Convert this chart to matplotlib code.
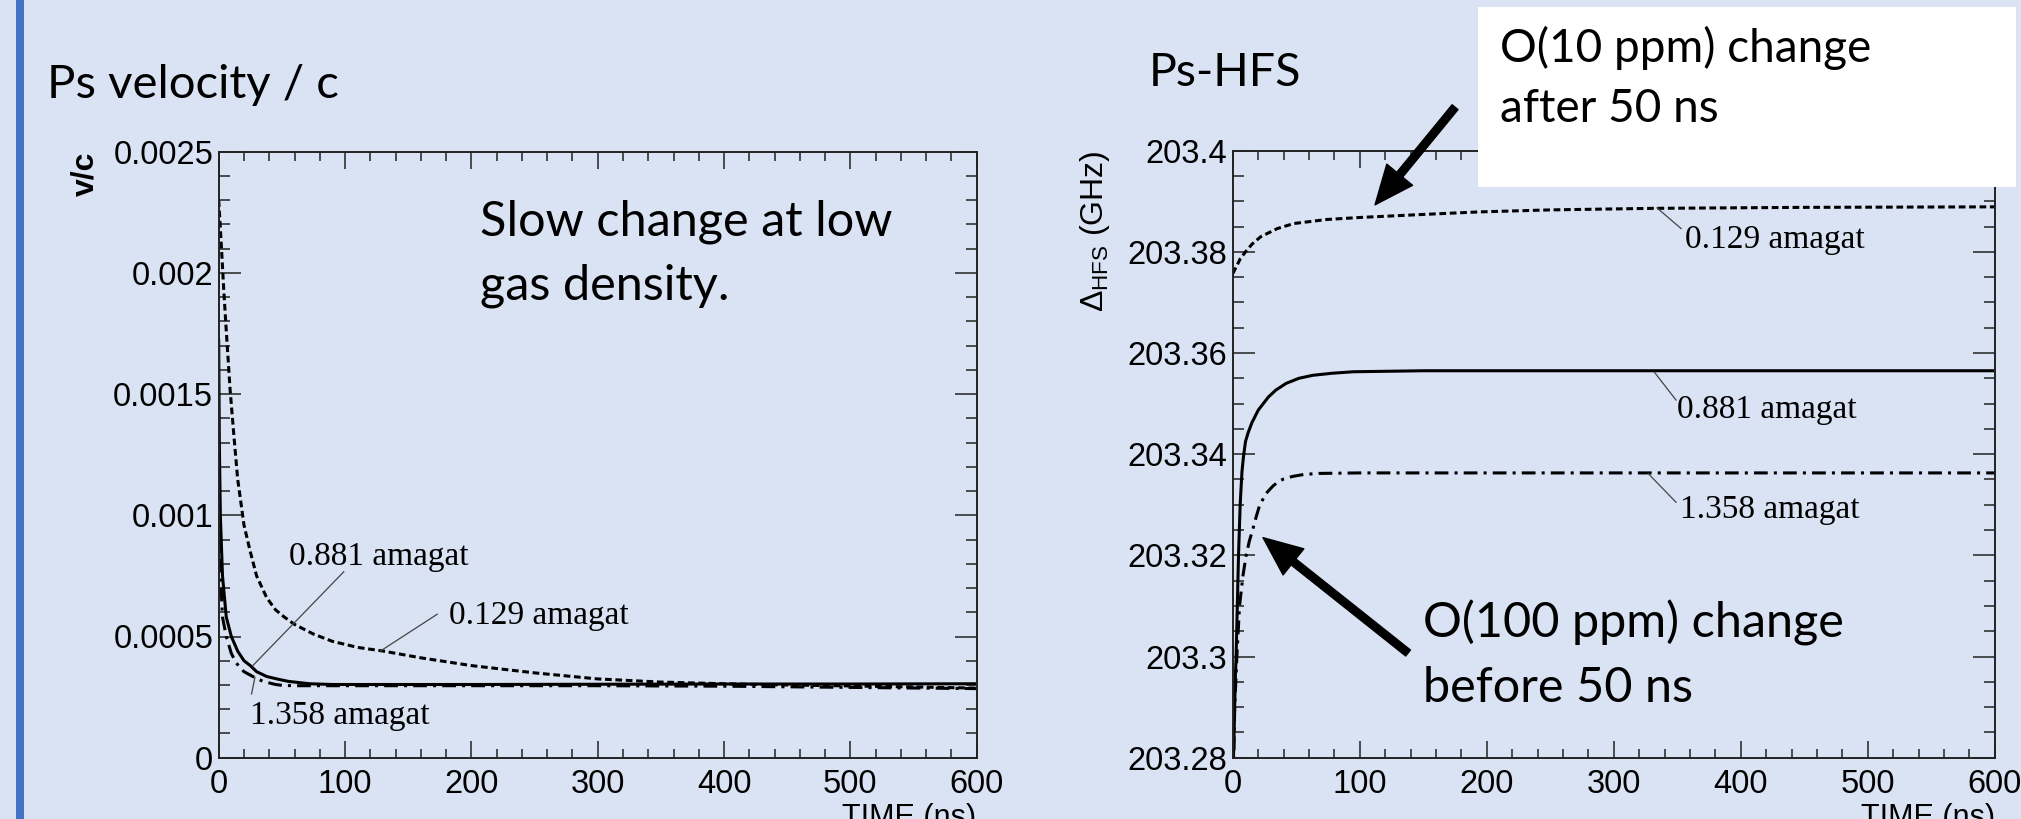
import numpy as np
import matplotlib.pyplot as plt
from matplotlib.patches import Rectangle
from matplotlib.ticker import FixedLocator, FixedFormatter, MultipleLocator

# ---- data ----
# left panel: Ps velocity / c versus time (ns), values in units of 1e-4
t_v_0129 = [0, 2, 4, 6, 9, 12, 15, 20, 25, 30, 38, 45, 52, 60, 75, 90, 110, 130,
            160, 200, 250, 300, 350, 400, 450, 500, 550, 600]
v_0129 = [23.0, 21.2, 19.3, 17.6, 15.2, 13.3, 11.5, 9.6, 8.5, 7.5, 6.6, 6.1, 5.8,
          5.5, 5.1, 4.8, 4.55, 4.4, 4.12, 3.8, 3.5, 3.25, 3.12, 3.05, 3.0, 2.96,
          2.92, 2.87]
t_v_0881 = [0, 0.5, 1.3, 3, 6, 10, 15, 20, 25, 30, 38, 46, 55, 72, 90, 120, 200,
            300, 400, 500, 600]
v_0881 = [17.2, 13.0, 10.0, 7.5, 5.8, 5.0, 4.4, 4.0, 3.8, 3.55, 3.35, 3.25, 3.15,
          3.05, 3.02, 3.02, 3.02, 3.03, 3.04, 3.04, 3.05]
t_v_1358 = [0, 0.5, 1.5, 3, 6, 10, 14, 20, 27, 35, 45, 51, 60, 80, 100, 200, 300,
            400, 500, 600]
v_1358 = [13.0, 10.0, 7.5, 5.8, 5.0, 4.3, 3.9, 3.55, 3.35, 3.15, 3.02, 2.98, 2.97,
          2.97, 2.97, 2.97, 2.97, 2.95, 2.9, 2.85]

# right panel: Ps-HFS (GHz) versus time (ns)
t_h_0129 = [0, 3, 6, 10, 15, 22, 35, 48, 74, 100, 150, 194, 250, 330, 450, 600]
h_0129 = [203.3757, 203.3772, 203.3787, 203.3800, 203.3815, 203.3830, 203.3846,
          203.3856, 203.3864, 203.3868, 203.3874, 203.3879, 203.3883, 203.3886,
          203.3888, 203.3889]
t_h_0881 = [0, 1, 2, 2.6, 4.5, 5.8, 7.2, 8.4, 10, 12, 15, 20, 24, 28, 34, 42, 52,
            63, 78, 95, 150, 600]
h_0881 = [203.275, 203.285, 203.296, 203.300, 203.320, 203.330, 203.3365, 203.3395,
          203.3425, 203.3442, 203.3462, 203.3487, 203.3500, 203.3513, 203.3527,
          203.3540, 203.3550, 203.3556, 203.3560, 203.3563, 203.3565, 203.3565]
t_h_1358 = [0, 1.5, 3.2, 5.3, 8, 10.5, 13, 15.8, 18.5, 21, 26, 31.6, 36, 40, 47,
            56, 68, 100, 600]
h_1358 = [203.27, 203.29, 203.300, 203.310, 203.316, 203.320, 203.3228, 203.3252,
          203.3277, 203.3298, 203.3322, 203.3337, 203.3346, 203.3351, 203.3356,
          203.3360, 203.3362, 203.3363, 203.3363]

v_ticks = [0, 0.0005, 0.001, 0.0015, 0.002, 0.0025]
v_ticklabels = ['0', '0.0005', '0.001', '0.0015', '0.002', '0.0025']
h_ticks = [203.28, 203.30, 203.32, 203.34, 203.36, 203.38, 203.40]
h_ticklabels = ['203.28', '203.3', '203.32', '203.34', '203.36', '203.38', '203.4']
t_ticks = [0, 100, 200, 300, 400, 500, 600]
t_ticklabels = ['0', '100', '200', '300', '400', '500', '600']

BG = '#DAE3F3'
INK = '#222222'
W, H = 2021, 819

plt.rcParams['mathtext.fontset'] = 'custom'
plt.rcParams['mathtext.rm'] = 'Liberation Sans'
plt.rcParams['mathtext.it'] = 'Liberation Sans'

fig = plt.figure(figsize=(W / 100, H / 100), dpi=100, facecolor=BG)


def fx(px):
    return px / W


def fy(py):
    return 1 - py / H


def root_style(ax, ticks, ticklabels, yminor):
    ax.set_facecolor('none')
    for s in ax.spines.values():
        s.set_color(INK)
        s.set_linewidth(1.4)
    ax.set_xlim(0, 600)
    ax.xaxis.set_major_locator(FixedLocator(t_ticks))
    ax.xaxis.set_major_formatter(FixedFormatter(t_ticklabels))
    ax.xaxis.set_minor_locator(MultipleLocator(20))
    ax.yaxis.set_major_locator(FixedLocator(ticks))
    ax.yaxis.set_major_formatter(FixedFormatter(ticklabels))
    ax.yaxis.set_minor_locator(MultipleLocator(yminor))
    ax.tick_params(which='both', direction='in', top=True, right=True,
                   color=INK, width=1.1, labelsize=23.5, labelcolor='black')
    ax.tick_params(axis='x', which='major', length=12.5, pad=8)
    ax.tick_params(axis='x', which='minor', length=6.5)
    ax.tick_params(axis='y', which='major', length=16, pad=4)
    ax.tick_params(axis='y', which='minor', length=8)
    for lab in ax.get_xticklabels() + ax.get_yticklabels():
        lab.set_fontfamily('Liberation Sans')


dashed = (0, (2.2, 1.2))
dashdot = (0, (4.5, 2, 1, 2))
LW = 2.2

# ---- left panel ----
axL = fig.add_axes([fx(218.7), fy(757.7), fx(758), 606 / H])
axL.set_ylim(0, 0.0025)
root_style(axL, v_ticks, v_ticklabels, 0.0001)
axL.plot(t_v_0129, np.array(v_0129) * 1e-4, color='black', lw=LW, ls=dashed)
axL.plot(t_v_0881, np.array(v_0881) * 1e-4, color='black', lw=LW, ls='-')
axL.plot(t_v_1358, np.array(v_1358) * 1e-4, color='black', lw=LW, ls=dashdot)

serif = dict(family='Liberation Serif', fontsize=24, color='black')
axL.text(56, 0.000828, '0.881 amagat', va='center', ha='left', **serif)
axL.plot([99, 27], [0.000767, 0.000380], color='#444444', lw=0.9)
axL.text(182, 0.000587, '0.129 amagat', va='center', ha='left', **serif)
axL.plot([173, 128], [0.000592, 0.00044], color='#444444', lw=0.9)
axL.text(25, 0.000173, '1.358 amagat', va='center', ha='left', **serif)
axL.plot([26, 28.7], [0.000263, 0.000332], color='#444444', lw=0.9)

fig.text(fx(85), fy(151.7), 'v/c', rotation=90, ha='center', va='top',
         family='Liberation Sans', fontsize=23, fontweight='bold')
fig.text(fx(976), fy(803), 'TIME (ns)', ha='right', va='top',
         family='Liberation Sans', fontsize=22)

# ---- right panel ----
axR = fig.add_axes([fx(1232.8), fy(757.7), fx(762), 607 / H])
axR.set_ylim(203.28, 203.40)
root_style(axR, h_ticks, h_ticklabels, 0.005)
axR.plot(t_h_0129, h_0129, color='black', lw=LW, ls=dashed)
axR.plot(t_h_0881, h_0881, color='black', lw=LW, ls='-')
axR.plot(t_h_1358, h_1358, color='black', lw=LW, ls=dashdot)

axR.text(355.7, 203.3824, '0.129 amagat', va='center', ha='left', **serif)
axR.plot([334, 353], [203.3887, 203.3846], color='#444444', lw=0.9)
axR.text(350, 203.3488, '0.881 amagat', va='center', ha='left', **serif)
axR.plot([332, 349], [203.3562, 203.3507], color='#444444', lw=0.9)
axR.text(352.5, 203.3291, '1.358 amagat', va='center', ha='left', **serif)
axR.plot([327, 349], [203.3362, 203.3305], color='#444444', lw=0.9)

fig.text(fx(1095), fy(150.7), r'$\Delta_{\mathrm{HFS}}$ (GHz)', rotation=90,
         ha='center', va='top', family='Liberation Sans', fontsize=23)
fig.text(fx(1995), fy(803), 'TIME (ns)', ha='right', va='top',
         family='Liberation Sans', fontsize=22)

arrow = dict(facecolor='black', edgecolor='black', width=5.5, headwidth=24,
             headlength=28, shrink=0)
axR.annotate('', xy=(112, 203.3893), xytext=(175, 203.4086),
             arrowprops=arrow, annotation_clip=False)
axR.annotate('', xy=(23.8, 203.3235), xytext=(138, 203.3007),
             arrowprops=arrow, annotation_clip=False)

# ---- slide decorations ----
fig.patches.append(Rectangle((fx(16), 0), fx(8), 1, transform=fig.transFigure,
                             facecolor='#4472C4', edgecolor='none', zorder=1))
fig.patches.append(Rectangle((fx(1478), fy(187)), fx(2016 - 1478), (187 - 7.3) / H,
                             transform=fig.transFigure, facecolor='white',
                             edgecolor='none', zorder=5))

slide = dict(family='Lato', color='black', va='baseline', ha='left')
fig.text(fx(47), fy(98), 'Ps velocity / c', fontsize=34, **slide)
fig.text(fx(1149), fy(86), 'Ps-HFS', fontsize=33.5, **slide)
fig.text(fx(480), fy(235), 'Slow change at low', fontsize=35, **slide)
fig.text(fx(480), fy(300), 'gas density.', fontsize=35, **slide)
fig.text(fx(1500), fy(62), 'O(10 ppm) change', fontsize=33, zorder=6, **slide)
fig.text(fx(1500), fy(122), 'after 50 ns', fontsize=33, zorder=6, **slide)
fig.text(fx(1423), fy(638), 'O(100 ppm) change', fontsize=35, **slide)
fig.text(fx(1423), fy(702), 'before 50 ns', fontsize=35, **slide)

fig.savefig('out.png', dpi=100, facecolor=BG)
